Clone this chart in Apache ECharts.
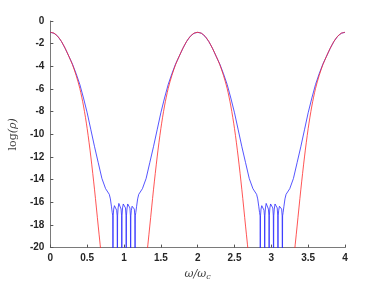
<!DOCTYPE html>
<html>
<head>
<meta charset="utf-8">
<script src="https://cdn.jsdelivr.net/npm/echarts@6/dist/echarts.min.js"></script>
<style>html,body{margin:0;padding:0;background:#fff}#c{width:382px;height:286px}</style>
</head>
<body>
<div id="c"></div>
<script>
const xTicks = [0, 0.5, 1, 1.5, 2, 2.5, 3, 3.5, 4];
const yTicks = [-20, -18, -16, -14, -12, -10, -8, -6, -4, -2, 0];

const bluePoints = [
[0,-1],[0.05,-1.08],[0.1,-1.35],[0.15,-1.8],[0.2,-2.4],[0.25,-3.1],[0.3,-3.8],[0.35,-4.65],[0.4,-5.6],[0.45,-6.8],[0.5,-8.1],[0.55,-9.6],[0.6,-11.1],[0.65,-12.5],[0.7,-13.9],[0.75,-14.8],[0.8,-15.3],[0.815,-15.7],[0.83,-16.4],[0.84,-16.9],[0.847,-17.2],[0.85,-24],[0.853,-17.2],[0.86,-16.6],[0.87,-16.3],[0.88,-16.2],[0.89,-16.35],[0.9,-16.7],[0.907,-17.2],[0.91,-24],[0.913,-17.2],[0.92,-16.5],[0.93,-16.1],[0.94,-16.0],[0.95,-16.15],[0.96,-16.6],[0.967,-17.2],[0.97,-24],[0.973,-17.2],[0.98,-16.5],[0.99,-16.15],[1.0,-16.05],[1.01,-16.15],[1.02,-16.5],[1.027,-17.2],[1.03,-24],[1.033,-17.2],[1.04,-16.6],[1.05,-16.15],[1.06,-16.0],[1.07,-16.1],[1.08,-16.5],[1.087,-17.2],[1.09,-24],[1.093,-17.2],[1.1,-16.7],[1.11,-16.35],[1.12,-16.2],[1.13,-16.3],[1.14,-16.6],[1.147,-17.2],[1.15,-24],[1.153,-17.2],[1.16,-16.9],[1.17,-16.4],[1.185,-15.7],[1.2,-15.3],[1.25,-14.8],[1.3,-13.9],[1.35,-12.5],[1.4,-11.1],[1.45,-9.6],[1.5,-8.1],[1.55,-6.8],[1.6,-5.6],[1.65,-4.65],[1.7,-3.8],[1.75,-3.1],[1.8,-2.4],[1.85,-1.8],[1.9,-1.35],[1.95,-1.08],
[2,-1],[2.05,-1.08],[2.1,-1.35],[2.15,-1.8],[2.2,-2.4],[2.25,-3.1],[2.3,-3.8],[2.35,-4.65],[2.4,-5.6],[2.45,-6.8],[2.5,-8.1],[2.55,-9.6],[2.6,-11.1],[2.65,-12.5],[2.7,-13.9],[2.75,-14.8],[2.8,-15.3],[2.815,-15.7],[2.83,-16.4],[2.84,-16.9],[2.847,-17.2],[2.85,-24],[2.853,-17.2],[2.86,-16.6],[2.87,-16.3],[2.88,-16.2],[2.89,-16.35],[2.9,-16.7],[2.907,-17.2],[2.91,-24],[2.913,-17.2],[2.92,-16.5],[2.93,-16.1],[2.94,-16.0],[2.95,-16.15],[2.96,-16.6],[2.967,-17.2],[2.97,-24],[2.973,-17.2],[2.98,-16.5],[2.99,-16.15],[3.0,-16.05],[3.01,-16.15],[3.02,-16.5],[3.027,-17.2],[3.03,-24],[3.033,-17.2],[3.04,-16.6],[3.05,-16.15],[3.06,-16.0],[3.07,-16.1],[3.08,-16.5],[3.087,-17.2],[3.09,-24],[3.093,-17.2],[3.1,-16.7],[3.11,-16.35],[3.12,-16.2],[3.13,-16.3],[3.14,-16.6],[3.147,-17.2],[3.15,-24],[3.153,-17.2],[3.16,-16.9],[3.17,-16.4],[3.185,-15.7],[3.2,-15.3],[3.25,-14.8],[3.3,-13.9],[3.35,-12.5],[3.4,-11.1],[3.45,-9.6],[3.5,-8.1],[3.55,-6.8],[3.6,-5.6],[3.65,-4.65],[3.7,-3.8],[3.75,-3.1],[3.8,-2.4],[3.85,-1.8],[3.9,-1.35],[3.95,-1.08],[4,-1]
];

const redPoints = [
[0,-1],[0.05,-1.08],[0.1,-1.35],[0.15,-1.8],[0.2,-2.4],[0.25,-3.1],[0.3,-3.85],[0.35,-4.8],[0.4,-5.95],[0.45,-7.5],[0.5,-9.5],[0.55,-12.0],[0.6,-14.9],[0.65,-18.1],[0.7,-21.3],[0.75,-25],[0.85,-32],[1.0,-40],[1.15,-32],[1.25,-25],[1.3,-21.3],[1.35,-18.1],[1.4,-14.9],[1.45,-12.0],[1.5,-9.5],[1.55,-7.5],[1.6,-5.95],[1.65,-4.8],[1.7,-3.85],[1.75,-3.1],[1.8,-2.4],[1.85,-1.8],[1.9,-1.35],[1.95,-1.08],
[2,-1],[2.05,-1.08],[2.1,-1.35],[2.15,-1.8],[2.2,-2.4],[2.25,-3.1],[2.3,-3.85],[2.35,-4.8],[2.4,-5.95],[2.45,-7.5],[2.5,-9.5],[2.55,-12.0],[2.6,-14.9],[2.65,-18.1],[2.7,-21.3],[2.75,-25],[2.85,-32],[3.0,-40],[3.15,-32],[3.25,-25],[3.3,-21.3],[3.35,-18.1],[3.4,-14.9],[3.45,-12.0],[3.5,-9.5],[3.55,-7.5],[3.6,-5.95],[3.65,-4.8],[3.7,-3.85],[3.75,-3.1],[3.8,-2.4],[3.85,-1.8],[3.9,-1.35],[3.95,-1.08],[4,-1]
];

const chart = echarts.init(document.getElementById('c'), null, {renderer: 'canvas'});
const labelStyle = {color: '#262626', fontSize: 10, fontWeight: 'bold', fontFamily: 'Liberation Sans, Arial, sans-serif'};
chart.setOption({
  animation: false,
  backgroundColor: '#ffffff',
  grid: {left: 49, right: 37, top: 21, bottom: 32, containLabel: false},
  xAxis: {
    type: 'value', min: xTicks[0], max: xTicks[xTicks.length - 1], interval: 0.5,
    name: '{i|ω/ω}{s|c}', nameLocation: 'middle', nameGap: 18,
    nameTextStyle: {rich: {
      i: {fontFamily: 'DejaVu Serif', fontStyle: 'italic', fontSize: 11, color: '#404040'},
      s: {fontFamily: 'DejaVu Serif', fontStyle: 'italic', fontSize: 8, color: '#404040', verticalAlign: 'bottom', padding: [6, 0, 0, 0]}
    }},
    axisLine: {show: true, onZero: false, lineStyle: {color: '#7a7a7a', width: 1}},
    axisTick: {show: true, inside: true, length: 3, lineStyle: {color: '#555'}},
    axisLabel: Object.assign({margin: 6}, labelStyle),
    splitLine: {show: false}
  },
  yAxis: {
    type: 'value', min: yTicks[0], max: yTicks[yTicks.length - 1], interval: 2,
    name: '{r|log}{i|(ρ)}', nameLocation: 'middle', nameGap: 26, nameRotate: 90,
    nameTextStyle: {rich: {
      r: {fontFamily: 'DejaVu Serif', fontSize: 11, color: '#404040'},
      i: {fontFamily: 'DejaVu Serif', fontStyle: 'italic', fontSize: 11, color: '#404040'}
    }},
    axisLine: {show: true, onZero: false, lineStyle: {color: '#7a7a7a', width: 1}},
    axisTick: {show: true, inside: true, length: 3, lineStyle: {color: '#555'}},
    axisLabel: Object.assign({margin: 6}, labelStyle),
    splitLine: {show: false}
  },
  series: [
    {type: 'line', data: bluePoints, showSymbol: false, clip: true,
     lineStyle: {color: '#2a2aff', width: 0.8}},
    {type: 'line', data: redPoints, showSymbol: false, clip: true, smooth: 0.3,
     lineStyle: {color: '#ff2a2a', width: 0.8}}
  ]
});
</script>
</body>
</html>
